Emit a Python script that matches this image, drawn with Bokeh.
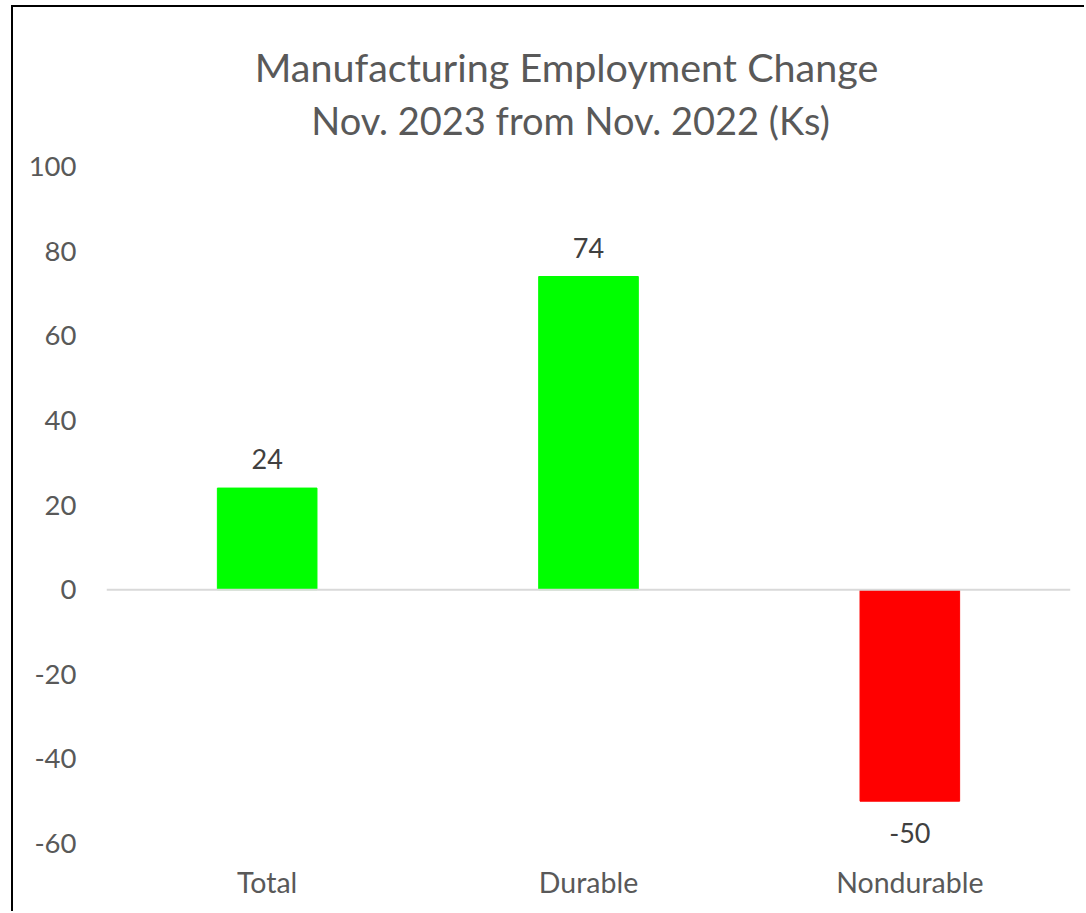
from bokeh.plotting import figure
from bokeh.models import (ColumnDataSource, Range1d, FixedTicker, Span, LabelSet)
from bokeh.core.properties import value
from bokeh.embed import file_html
from bokeh.resources import INLINE

# ---- data ----
categories = ["Total", "Durable", "Nondurable"]
values = [24, 74, -50]
y_ticks = [-60, -40, -20, 0, 20, 40, 60, 80, 100]
title_line1 = "Manufacturing Employment Change"
title_line2 = "Nov. 2023 from Nov. 2022 (Ks)"

FONT = "Lato"
GREY = "#595959"

# layout (page pixels)
OX, OY = 13, 7                 # canvas origin inside the page (outer border)
AX_TOP, AX_BOTTOM = 166, 843   # pixel rows of the 100 and -60 ticks
PX = (AX_BOTTOM - AX_TOP) / (y_ticks[-1] - y_ticks[0])   # pixels per unit
y_top = y_ticks[-1] + (AX_TOP - OY) / PX                 # frame starts at canvas top


def row_to_y(row):
    return y_ticks[-1] + (AX_TOP - row) / PX


colors = ["#00FF00" if v >= 0 else "#FF0000" for v in values]
label_offsets = [19 if v >= 0 else -42 for v in values]
labels = [str(v) for v in values]

src = ColumnDataSource(dict(cat=categories, val=values, color=colors,
                            lab=labels, off=label_offsets))

p = figure(width=1086 - OX, height=913 - OY, x_range=categories,
           y_range=Range1d(y_ticks[0], y_top),
           output_backend="svg", toolbar_location=None,
           min_border_left=106 - OX, min_border_right=16,
           min_border_top=0, min_border_bottom=913 - AX_BOTTOM)
p.styles = {"margin-left": "11px", "margin-top": "5px",
            "border-left": "2px solid black", "border-top": "2px solid black"}
p.outline_line_color = None
p.background_fill_color = "white"
p.border_fill_color = "white"
p.xgrid.grid_line_color = None
p.ygrid.grid_line_color = None

p.vbar(x="cat", top="val", bottom=0, width=0.31, color="color", source=src)

p.add_layout(Span(location=0, dimension="width", line_color="#D9D9D9",
                  line_width=2))

lbl = LabelSet(x="cat", y="val", text="lab", y_offset="off", source=src,
               text_align="center", text_baseline="alphabetic",
               text_font=value(FONT), text_font_size="27px",
               text_color="#404040")
p.add_layout(lbl)

# two-line chart title, drawn in the (empty) top part of the frame
p.text(x=[categories[1]], y=[row_to_y(66)], text=[title_line1], x_offset=-22,
       text_align="center", text_baseline="middle", text_font=value(FONT),
       text_font_size="39.5px", text_color=GREY)
p.text(x=[categories[1]], y=[row_to_y(119)], text=[title_line2], x_offset=-18,
       text_align="center", text_baseline="middle", text_font=value(FONT),
       text_font_size="38px", text_color=GREY)

# axes
p.yaxis.ticker = FixedTicker(ticks=y_ticks)
p.yaxis.major_label_overrides = {t: str(t) for t in y_ticks}
p.yaxis.axis_line_color = None
p.yaxis.major_tick_line_color = None
p.yaxis.minor_tick_line_color = None
p.yaxis.major_tick_out = 0
p.yaxis.major_tick_in = 0
p.yaxis.major_label_standoff = 30
p.yaxis.major_label_text_font = FONT
p.yaxis.major_label_text_font_size = "27.5px"
p.yaxis.major_label_text_color = GREY

p.xaxis.axis_line_color = None
p.xaxis.major_tick_line_color = None
p.xaxis.minor_tick_line_color = None
p.xaxis.major_tick_out = 0
p.xaxis.major_tick_in = 0
p.xaxis.major_label_standoff = 21
p.xaxis.major_label_text_font = FONT
p.xaxis.major_label_text_font_size = "28.5px"
p.xaxis.major_label_text_color = GREY

open("out.html", "w").write(file_html(p, INLINE))
